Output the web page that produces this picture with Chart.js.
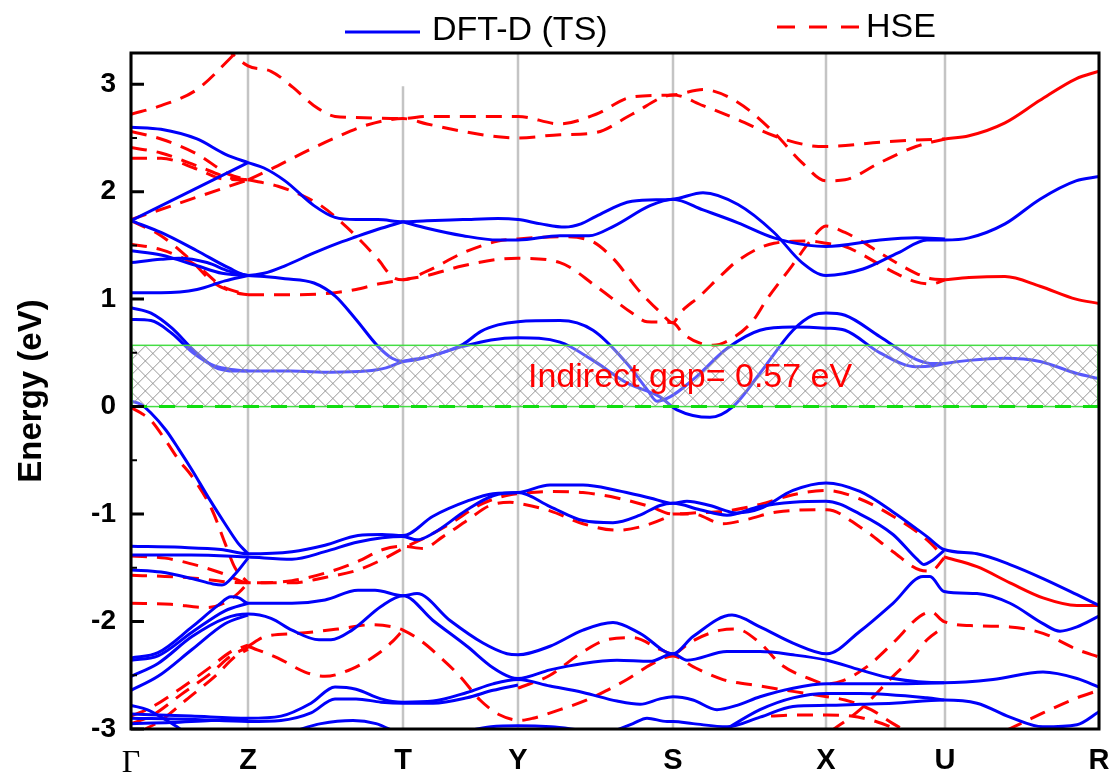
<!DOCTYPE html>
<html>
<head>
<meta charset="utf-8">
<title>Band structure</title>
<script src="https://cdn.jsdelivr.net/npm/chart.js@4.4.1/dist/chart.umd.min.js"></script>
<style>
  html, body { margin: 0; padding: 0; background: #fff; }
  #wrap { width: 1118px; height: 778px; }
</style>
</head>
<body>
<div id="wrap"><canvas id="bands" width="1118" height="778"></canvas></div>
<script>
// k-path: distance of each high-symmetry point along the path
const kTicks = [0, 117, 272, 387, 542, 695, 814, 968];
const kLabels = ['Γ', 'Z', 'T', 'Y', 'S', 'X', 'U', 'R'];
const energyTicks = [-3, -2, -1, 0, 1, 2, 3];
const gapTop = 0.57;
const gapText = 'Indirect gap= 0.57 eV';

// DFT-D (TS) bands, [k, E] pairs
const dftConduction = [
  [[0,2.60],[30,2.58],[66,2.49],[94,2.35],[117,2.27],[133,2.22],[154,2.10],[183,1.87],[204,1.76],[225,1.74],[247,1.74],[272,1.72],[296,1.73],[332,1.74],[367,1.75],[387,1.74],[410,1.70],[434,1.67],[450,1.70],[465,1.77],[501,1.91],[542,1.93],[572,1.99],[607,1.88],[643,1.62],[671,1.34],[695,1.22],[732,1.28],[767,1.43],[796,1.55],[814,1.55],[838,1.57],[874,1.70],[909,1.93],[945,2.10],[968,2.14]],
  [[0,1.73],[117,2.27]],
  [[272,1.72],[296,1.66],[332,1.59],[367,1.55],[387,1.55],[429,1.59],[458,1.59],[483,1.68],[519,1.87],[542,1.93],[572,1.83],[607,1.71],[643,1.57],[678,1.50],[695,1.49],[749,1.55],[785,1.57],[814,1.56]],
  [[0,1.73],[30,1.62],[66,1.45],[98,1.29],[117,1.22],[133,1.24],[154,1.31],[183,1.43],[204,1.51],[225,1.58],[247,1.65],[272,1.72]],
  [[0,1.45],[30,1.41],[66,1.31],[91,1.24],[117,1.22],[133,1.21],[154,1.19],[183,1.15],[204,1.03],[225,0.81],[247,0.56],[261,0.45],[272,0.42],[296,0.46],[332,0.58],[350,0.70],[367,0.76],[387,0.79],[429,0.80],[462,0.71],[496,0.40],[516,0.16],[526,0.05],[539,0.09],[562,0.25],[596,0.54],[629,0.71],[662,0.74],[695,0.73],[714,0.71],[749,0.50],[785,0.37],[803,0.38],[814,0.40],[838,0.43],[874,0.45],[909,0.42],[945,0.31],[968,0.26]],
  [[0,1.34],[30,1.37],[48,1.38],[76,1.34],[98,1.26],[117,1.22]],
  [[0,1.06],[30,1.06],[66,1.09],[94,1.17],[117,1.22]],
  [[0,0.92],[20,0.87],[41,0.73],[62,0.53],[83,0.37],[105,0.33],[117,0.33]],
  [[0,0.81],[20,0.80],[41,0.68],[62,0.50],[83,0.38],[105,0.34],[117,0.33],[160,0.33],[200,0.32],[235,0.33],[255,0.36],[272,0.42],[296,0.46],[332,0.56],[360,0.62],[387,0.64],[429,0.60],[462,0.43],[496,0.22],[529,0.09],[546,-0.03],[579,-0.10],[602,0.0],[629,0.31],[662,0.71],[682,0.85],[695,0.87],[714,0.85],[749,0.65],[785,0.44],[803,0.40],[814,0.40]]
];

const dftValence = [
  [[0,0.05],[10,0.02],[20,-0.06],[35,-0.22],[48,-0.40],[61,-0.59],[77,-0.84],[94,-1.09],[107,-1.27],[117,-1.37]],
  [[0,-1.30],[50,-1.31],[90,-1.33],[117,-1.37],[161,-1.35],[194,-1.29],[227,-1.20],[251,-1.19],[272,-1.20],[302,-1.02],[336,-0.88],[362,-0.81],[387,-0.80],[419,-0.73],[452,-0.73],[486,-0.78],[519,-0.85],[542,-0.90],[556,-0.88],[579,-0.92],[606,-0.99],[629,-0.95],[662,-0.78],[695,-0.71],[729,-0.79],[762,-0.98],[796,-1.21],[813,-1.33],[846,-1.37],[879,-1.47],[912,-1.60],[946,-1.75],[968,-1.85]],
  [[0,-1.38],[60,-1.38],[117,-1.40],[161,-1.42],[194,-1.35],[227,-1.26],[272,-1.21],[286,-1.24],[302,-1.18],[336,-0.96],[362,-0.83],[387,-0.80],[419,-0.93],[452,-1.06],[482,-1.08],[509,-1.01],[529,-0.92],[542,-0.90],[569,-0.96],[596,-1.01],[629,-0.93],[662,-0.89],[695,-0.88],[729,-1.00],[762,-1.19],[786,-1.42],[793,-1.47],[800,-1.44],[813,-1.34]],
  [[0,-1.52],[30,-1.54],[61,-1.60],[82,-1.65],[91,-1.66],[104,-1.56],[117,-1.41]],
  [[0,-2.34],[27,-2.29],[61,-2.05],[87,-1.85],[100,-1.77],[108,-1.78],[117,-1.83],[161,-1.83],[194,-1.80],[227,-1.71],[244,-1.71],[272,-1.76],[286,-1.74],[319,-1.99],[352,-2.20],[376,-2.30],[387,-2.31],[419,-2.23],[452,-2.08],[482,-2.01],[509,-2.11],[542,-2.30],[562,-2.14],[601,-1.94],[629,-2.05],[662,-2.20],[696,-2.30],[729,-2.09],[762,-1.83],[792,-1.58],[799,-1.58],[813,-1.72],[846,-1.74],[879,-1.83],[912,-2.02],[929,-2.09],[946,-2.05],[968,-1.95]],
  [[0,-2.36],[27,-2.32],[61,-2.10],[94,-1.90],[117,-1.83]],
  [[0,-2.51],[27,-2.39],[61,-2.14],[94,-1.97],[117,-1.93],[140,-1.97],[161,-2.08],[188,-2.17],[200,-2.17],[221,-2.08],[250,-1.86],[272,-1.76],[302,-1.99],[336,-2.23],[362,-2.43],[380,-2.52],[387,-2.53],[419,-2.45],[452,-2.39],[486,-2.36],[519,-2.37],[542,-2.30],[556,-2.36],[596,-2.28],[629,-2.28],[662,-2.31],[696,-2.36],[729,-2.45],[762,-2.53],[813,-2.57],[862,-2.54],[912,-2.47],[946,-2.53],[968,-2.61]],
  [[0,-2.64],[27,-2.51],[61,-2.26],[94,-2.02],[117,-1.94]],
  [[0,-2.86],[60,-2.88],[117,-2.90],[150,-2.88],[180,-2.76],[204,-2.61],[225,-2.63],[250,-2.72],[272,-2.75],[302,-2.74],[336,-2.66],[362,-2.58],[387,-2.54],[419,-2.60],[452,-2.66],[486,-2.74],[509,-2.77],[529,-2.72],[542,-2.70],[562,-2.73],[586,-2.82],[606,-2.78],[629,-2.70],[662,-2.62],[696,-2.58],[762,-2.58],[813,-2.57]],
  [[0,-2.90],[60,-2.91],[117,-2.93],[150,-2.92],[180,-2.85],[204,-2.72],[225,-2.72],[250,-2.75],[272,-2.76],[302,-2.76],[336,-2.71],[362,-2.64],[387,-2.59]],
  [[330,-3.03],[360,-2.98],[387,-2.97],[420,-2.98],[450,-3.01],[470,-3.03]],
  [[480,-3.03],[502,-2.95],[516,-2.90],[536,-2.93],[542,-2.93],[562,-2.95],[596,-2.98],[629,-2.89],[662,-2.79],[696,-2.78],[729,-2.77],[762,-2.76],[813,-2.73],[846,-2.76],[879,-2.89],[912,-2.98],[946,-2.96],[968,-2.84]],
  [[590,-3.03],[629,-2.82],[662,-2.71],[696,-2.67],[729,-2.67],[796,-2.71],[813,-2.73]],
  [[0,-2.78],[16,-2.82],[32,-2.90],[46,-2.98],[52,-3.02]],
  [[0,-2.95],[40,-2.94],[80,-2.92],[117,-2.91]],
  [[160,-3.03],[190,-2.95],[222,-2.92],[245,-2.95],[265,-3.03]]
];

// HSE bands, dashed
const hseConduction = [
  [[0,2.72],[30,2.80],[66,2.95],[98,3.23],[117,3.42]],
  [[92,3.36],[117,3.17],[140,3.12],[162,2.97],[183,2.80],[204,2.70],[225,2.69],[272,2.68],[296,2.70],[332,2.70],[387,2.70],[429,2.63],[465,2.72],[501,2.88],[542,2.90],[572,2.95],[607,2.83],[643,2.55],[671,2.27],[695,2.10],[714,2.11],[749,2.27],[785,2.42],[814,2.49]],
  [[117,2.11],[140,2.21],[172,2.36],[204,2.50],[236,2.62],[272,2.68],[296,2.63],[332,2.56],[367,2.51],[387,2.50],[429,2.53],[465,2.55],[501,2.72],[542,2.90],[572,2.80],[607,2.67],[643,2.52],[678,2.43],[695,2.42],[749,2.46],[785,2.48],[814,2.49]],
  [[0,2.56],[30,2.49],[66,2.35],[98,2.16],[117,2.11]],
  [[0,2.41],[30,2.36],[66,2.24],[98,2.13],[117,2.11]],
  [[0,2.31],[30,2.31],[66,2.21],[91,2.12],[117,2.11]],
  [[0,1.74],[117,2.11]],
  [[117,2.11],[147,2.05],[172,1.96],[190,1.87],[211,1.71],[229,1.55],[247,1.37],[261,1.21],[272,1.18],[296,1.26],[332,1.43],[367,1.54],[387,1.56],[429,1.58],[458,1.55],[483,1.37],[506,1.10],[529,0.88],[542,0.78],[549,0.87],[569,1.03],[590,1.22],[607,1.36],[643,1.52],[678,1.54],[695,1.52],[714,1.49],[732,1.41],[749,1.32],[767,1.23],[785,1.16],[800,1.14],[814,1.18]],
  [[117,1.04],[160,1.04],[204,1.06],[225,1.09],[247,1.14],[272,1.18],[296,1.22],[332,1.31],[367,1.37],[387,1.38],[429,1.34],[465,1.12],[501,0.87],[516,0.79],[542,0.78],[552,0.68],[569,0.59],[582,0.57],[602,0.64],[622,0.80],[636,1.0],[661,1.31],[680,1.55],[695,1.68],[714,1.62],[732,1.53],[749,1.43],[767,1.33],[785,1.24],[800,1.19],[814,1.18]],
  [[0,1.73],[30,1.59],[59,1.37],[83,1.15],[105,1.06],[117,1.04]],
  [[0,1.51],[30,1.46],[66,1.31],[91,1.12],[117,1.04]]
];

const hseValence = [
  [[0,-0.01],[10,-0.06],[20,-0.13],[35,-0.32],[48,-0.50],[61,-0.65],[81,-0.96],[94,-1.27],[104,-1.50],[117,-1.64]],
  [[0,-1.39],[34,-1.41],[67,-1.48],[94,-1.56],[117,-1.64],[161,-1.62],[194,-1.55],[227,-1.44],[252,-1.33],[272,-1.30],[292,-1.32],[312,-1.21],[336,-1.06],[359,-0.92],[379,-0.89],[387,-0.90],[419,-0.97],[452,-1.09],[486,-1.15],[509,-1.12],[536,-1.03],[542,-1.00],[562,-1.00],[592,-1.09],[616,-1.05],[646,-0.98],[696,-0.96],[729,-1.12],[762,-1.35],[789,-1.52],[800,-1.53],[813,-1.41]],
  [[0,-1.57],[34,-1.58],[67,-1.60],[94,-1.63],[117,-1.64],[161,-1.64],[194,-1.59],[227,-1.52],[252,-1.42],[272,-1.32],[296,-1.21],[319,-1.09],[352,-0.90],[379,-0.82],[387,-0.81],[419,-0.79],[452,-0.80],[486,-0.85],[519,-0.93],[542,-1.00],[562,-0.99],[596,-0.97],[629,-0.91],[662,-0.82],[696,-0.78],[729,-0.86],[762,-1.02],[796,-1.24],[813,-1.40]],
  [[0,-1.83],[40,-1.84],[75,-1.87],[95,-1.82],[108,-1.73],[117,-1.64]],
  [[0,-2.88],[20,-2.80],[50,-2.62],[80,-2.42],[100,-2.28],[117,-2.22]],
  [[0,-2.95],[20,-2.88],[50,-2.68],[80,-2.48],[100,-2.32],[117,-2.24]],
  [[10,-3.02],[30,-2.92],[55,-2.73],[85,-2.50],[105,-2.32],[117,-2.26]],
  [[117,-2.23],[134,-2.14],[167,-2.11],[207,-2.07],[241,-2.03],[262,-2.05],[272,-2.08],[290,-2.18],[309,-2.33],[329,-2.51],[349,-2.73],[369,-2.87],[389,-2.92],[402,-2.90],[429,-2.82],[456,-2.73],[476,-2.64],[496,-2.54],[522,-2.39],[542,-2.32],[562,-2.42],[592,-2.54],[629,-2.60],[662,-2.65],[696,-2.70],[714,-2.73],[740,-2.82],[762,-2.95],[775,-3.02]],
  [[117,-2.23],[147,-2.34],[174,-2.47],[194,-2.51],[221,-2.44],[247,-2.30],[261,-2.19],[272,-2.08]],
  [[387,-2.62],[419,-2.50],[449,-2.30],[476,-2.17],[502,-2.15],[529,-2.26],[542,-2.31]],
  [[542,-2.32],[562,-2.18],[590,-2.08],[605,-2.07],[629,-2.20],[650,-2.40],[678,-2.53],[696,-2.58],[712,-2.55],[736,-2.42],[762,-2.20],[789,-1.95],[800,-1.91],[813,-2.00],[846,-2.04],[879,-2.05],[912,-2.11],[946,-2.26],[968,-2.33]],
  [[640,-2.88],[662,-2.87],[696,-2.87],[720,-2.88],[745,-2.93],[770,-3.02]],
  [[700,-3.02],[729,-2.82],[762,-2.51],[782,-2.33],[796,-2.17],[813,-2.05]],
  [[876,-3.01],[912,-2.85],[946,-2.71],[968,-2.64]]
];

// HSE segments along U-R that are drawn solid
const hseSolid = [
  [[814,2.49],[838,2.52],[874,2.64],[909,2.85],[945,3.05],[968,3.12]],
  [[814,1.18],[838,1.20],[874,1.21],[909,1.12],[945,1.00],[968,0.96]],
  [[813,-1.40],[846,-1.49],[879,-1.64],[912,-1.78],[946,-1.85],[968,-1.85]]
];

const BLUE = 'rgb(0, 0, 250)';
const RED = 'rgb(255, 0, 0)';
const HSE_DASH = [16, 10];
const SANS = 'Arial, "Liberation Sans", sans-serif';
const SERIF = '"Times New Roman", "Liberation Serif", serif';

function bandSet(bands, label, color, dash) {
  return bands.map((pts, i) => ({
    label: i === 0 ? label : '',
    data: pts,
    borderColor: color,
    borderWidth: 3,
    borderDash: dash,
    pointRadius: 0,
    pointHoverRadius: 0,
    cubicInterpolationMode: 'monotone',
    fill: false
  }));
}

// DFT first so it is painted on top
const datasets = [
  ...bandSet(dftConduction.concat(dftValence), 'DFT-D (TS)', BLUE, []),
  ...bandSet(hseConduction.concat(hseValence), 'HSE', RED, HSE_DASH),
  ...bandSet(hseSolid, '', RED, [])
];

// vertical lines at high-symmetry points
const symLines = {
  id: 'symLines',
  beforeDatasetsDraw(chart) {
    const { ctx, chartArea, scales: { x, y } } = chart;
    ctx.save();
    ctx.strokeStyle = '#c4c4c4';
    ctx.lineWidth = 2.5;
    kTicks.forEach((k, i) => {
      const px = x.getPixelForValue(k);
      const top = kLabels[i] === 'T' ? y.getPixelForValue(2.98) : chartArea.top;
      ctx.beginPath();
      ctx.moveTo(px, top);
      ctx.lineTo(px, chartArea.bottom);
      ctx.stroke();
    });
    ctx.restore();
  }
};

// hatched gap box, Fermi line and gap label
const gapBox = {
  id: 'gapBox',
  afterDatasetsDraw(chart) {
    const { ctx, chartArea, scales: { x, y } } = chart;
    const left = chartArea.left, right = chartArea.right;
    const top = y.getPixelForValue(gapTop), bottom = y.getPixelForValue(0);
    const h = bottom - top;
    ctx.save();
    ctx.beginPath();
    ctx.rect(left, top, right - left, h);
    ctx.clip();
    ctx.fillStyle = 'rgba(255,255,255,0.35)';
    ctx.fillRect(left, top, right - left, h);
    ctx.strokeStyle = 'rgba(140,140,140,0.9)';
    ctx.lineWidth = 1;
    ctx.beginPath();
    for (let s = left - h; s < right + h; s += 15) {
      ctx.moveTo(s, bottom); ctx.lineTo(s + h, top);
      ctx.moveTo(s, top); ctx.lineTo(s + h, bottom);
    }
    ctx.stroke();
    ctx.restore();

    ctx.save();
    ctx.strokeStyle = '#44dd44';
    ctx.lineWidth = 1.5;
    ctx.strokeRect(left + 1, top, right - left - 2, h);
    ctx.strokeStyle = '#11dd11';
    ctx.lineWidth = 3;
    ctx.setLineDash([16, 12]);
    ctx.beginPath();
    ctx.moveTo(left, bottom);
    ctx.lineTo(right, bottom);
    ctx.stroke();
    ctx.setLineDash([]);
    ctx.fillStyle = RED;
    ctx.font = '34px ' + SANS;
    ctx.textBaseline = 'alphabetic';
    ctx.textAlign = 'left';
    ctx.fillText(gapText, x.getPixelForValue(397), y.getPixelForValue(0.18));
    ctx.restore();
  }
};

// frame, inward ticks and the legend above the plot
const frameAndLegend = {
  id: 'frameAndLegend',
  afterDraw(chart) {
    const { ctx, chartArea, scales: { y } } = chart;
    ctx.save();
    ctx.strokeStyle = '#000';
    ctx.lineWidth = 3;
    ctx.strokeRect(chartArea.left, chartArea.top, chartArea.right - chartArea.left, chartArea.bottom - chartArea.top);

    ctx.beginPath();
    energyTicks.forEach(v => {
      const py = y.getPixelForValue(v);
      ctx.moveTo(chartArea.left, py);
      ctx.lineTo(chartArea.left + 13, py);
    });
    ctx.stroke();
    ctx.lineWidth = 2;
    ctx.beginPath();
    energyTicks.forEach(v => {
      if (v + 0.5 > y.max) return;
      const py = y.getPixelForValue(v + 0.5);
      ctx.moveTo(chartArea.left, py);
      ctx.lineTo(chartArea.left + 6, py);
    });
    ctx.stroke();

    // legend
    ctx.font = '34px ' + SANS;
    ctx.textBaseline = 'middle';
    ctx.textAlign = 'left';
    ctx.lineWidth = 3;
    ctx.strokeStyle = BLUE;
    ctx.beginPath();
    ctx.moveTo(345, 32);
    ctx.lineTo(420, 32);
    ctx.stroke();
    ctx.fillStyle = '#000';
    ctx.fillText('DFT-D (TS)', 432, 31);

    ctx.strokeStyle = RED;
    ctx.setLineDash([18, 14]);
    ctx.beginPath();
    ctx.moveTo(777, 27);
    ctx.lineTo(859, 27);
    ctx.stroke();
    ctx.setLineDash([]);
    ctx.fillText('HSE', 866, 28);
    ctx.restore();
  }
};

new Chart(document.getElementById('bands'), {
  type: 'line',
  data: { datasets },
  options: {
    responsive: false,
    devicePixelRatio: 1,
    animation: false,
    events: [],
    layout: { padding: { top: 53, right: 19, bottom: 0, left: 0 } },
    plugins: {
      legend: { display: false },
      tooltip: { enabled: false }
    },
    scales: {
      x: {
        type: 'linear',
        min: 0,
        max: 968,
        afterBuildTicks: s => { s.ticks = kTicks.map(v => ({ value: v })); },
        afterFit: s => { s.height = 49; s.paddingLeft = 0; s.paddingRight = 0; },
        grid: { display: false, drawTicks: false },
        border: { display: false },
        ticks: {
          autoSkip: false,
          maxRotation: 0,
          padding: 15,
          color: '#000',
          font: c => c.index === 0
            ? { family: SERIF, size: 32, weight: 'normal' }
            : { family: SANS, size: 29, weight: 'bold' },
          callback: (v, i) => kLabels[i]
        }
      },
      y: {
        type: 'linear',
        min: -3,
        max: 3.29,
        afterBuildTicks: s => { s.ticks = energyTicks.map(v => ({ value: v })); },
        afterFit: s => { s.width = 131; s.paddingTop = 0; s.paddingBottom = 0; },
        grid: { display: false, drawTicks: false },
        border: { display: false },
        ticks: {
          padding: 15,
          color: '#000',
          font: { family: SANS, size: 28, weight: 'bold' },
          callback: v => String(v)
        },
        title: {
          display: true,
          text: 'Energy (eV)',
          color: '#000',
          font: { family: SANS, size: 33, weight: 'bold' },
          padding: { top: 12, bottom: 0 }
        }
      }
    }
  },
  plugins: [symLines, gapBox, frameAndLegend]
});
</script>
</body>
</html>
